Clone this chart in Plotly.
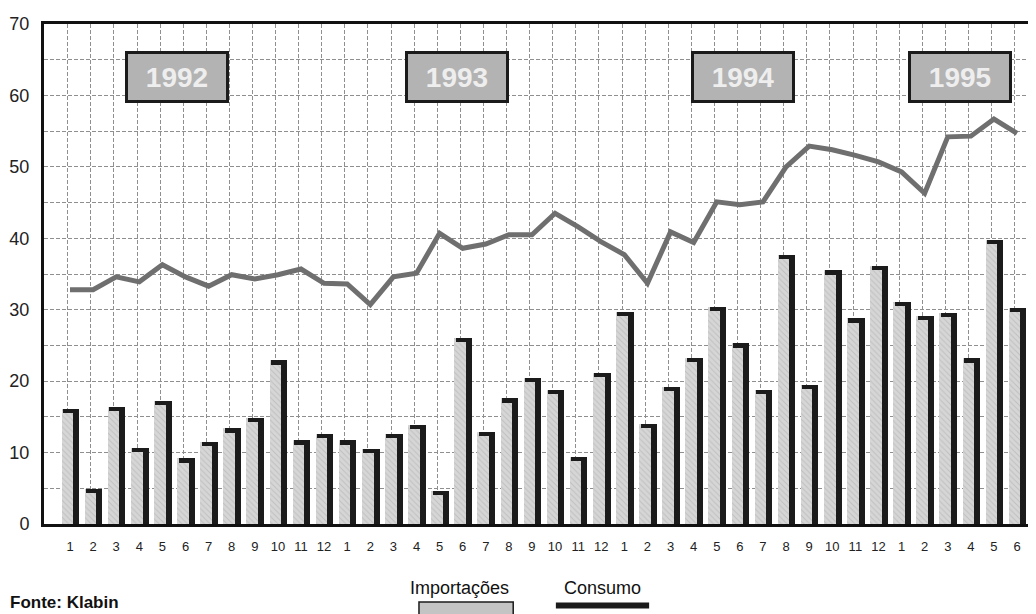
import plotly.graph_objects as go

# ---------------- data ----------------
meses = ["1", "2", "3", "4", "5", "6", "7", "8", "9", "10", "11", "12",
         "1", "2", "3", "4", "5", "6", "7", "8", "9", "10", "11", "12",
         "1", "2", "3", "4", "5", "6", "7", "8", "9", "10", "11", "12",
         "1", "2", "3", "4", "5", "6"]
anos = ["1992", "1993", "1994", "1995"]
importacoes = [16.1, 4.9, 16.4, 10.7, 17.2, 9.2, 11.5, 13.4, 14.9, 22.9, 11.7, 12.6,
               11.7, 10.5, 12.6, 13.9, 4.6, 26.1, 12.9, 17.6, 20.5, 18.8, 9.4, 21.2,
               29.7, 14.0, 19.2, 23.3, 30.4, 25.3, 18.8, 37.7, 19.5, 35.5, 28.8, 36.1,
               31.1, 29.1, 29.6, 23.2, 39.8, 30.3]
consumo = [32.8, 32.8, 34.6, 33.9, 36.3, 34.6, 33.3, 34.9, 34.3, 34.9, 35.7, 33.7,
           33.6, 30.7, 34.6, 35.1, 40.7, 38.6, 39.2, 40.5, 40.5, 43.5, 41.6, 39.5,
           37.7, 33.7, 40.9, 39.4, 45.1, 44.7, 45.1, 50.0, 52.9, 52.4, 51.6, 50.7,
           49.3, 46.3, 54.2, 54.3, 56.7, 54.7]
serie_nomes = ["Importações", "Consumo"]
fonte = "Fonte: Klabin"

# ---------------- styles ----------------
FONT = "Arial, Liberation Sans, sans-serif"
DARK = "#1b1b1b"
GRID = "#8f8f8f"
LINE_GRAY = "#6f6f6f"

x = list(range(len(meses)))
cap_h = 0.6

fig = go.Figure()

# light face of the bars
fig.add_trace(go.Bar(
    x=x, y=importacoes, name=serie_nomes[0], offset=-0.36, width=0.50,
    marker=dict(color="#d2d2d2", line=dict(width=0),
                pattern=dict(shape="\\", fgcolor="#a9a9a9", bgcolor="#d6d6d6",
                             size=4, solidity=0.25)),
    showlegend=False, hoverinfo="y"))
# dark side (shadow)
fig.add_trace(go.Bar(
    x=x, y=importacoes, offset=0.14, width=0.26,
    marker=dict(color=DARK, line=dict(width=0)), showlegend=False, hoverinfo="skip"))
# dark cap on top
fig.add_trace(go.Bar(
    x=x, y=[cap_h] * len(importacoes), base=[v - cap_h for v in importacoes],
    offset=-0.30, width=0.70,
    marker=dict(color=DARK, line=dict(width=0)), showlegend=False, hoverinfo="skip"))
# consumption line
fig.add_trace(go.Scatter(
    x=x, y=consumo, mode="lines", name=serie_nomes[1],
    line=dict(color=LINE_GRAY, width=5), showlegend=False))

fig.update_layout(
    width=1028, height=606,
    margin=dict(l=36, r=0, t=16, b=90),
    paper_bgcolor="white", plot_bgcolor="white",
    barmode="overlay", bargap=0,
    font=dict(family=FONT, color="#222"),
    xaxis=dict(
        range=[-1.126, 41.82], tickmode="array", tickvals=x, ticktext=meses,
        showgrid=False, zeroline=False, ticks="", ticklabelstandoff=8,
        tickfont=dict(size=13, color="#222"),
        showline=True, linecolor="#111", linewidth=3, mirror=True,
        minor=dict(tickmode="linear", tick0=-0.1, dtick=1, showgrid=True,
                   gridcolor=GRID, gridwidth=1, griddash="4px,2px", ticks=""),
    ),
    yaxis=dict(
        range=[0, 70], dtick=10, tick0=0, showgrid=True, gridcolor=GRID,
        gridwidth=1, griddash="4px,2px", zeroline=False, ticks="",
        ticklabelstandoff=8, tickfont=dict(size=18, color="#222"),
        showline=True, linecolor="#111", linewidth=3,
        minor=dict(dtick=5, showgrid=True, gridcolor=GRID, gridwidth=1,
                   griddash="4px,2px", ticks=""),
    ),
)

# year boxes
ano_pos = [0.134, 0.416, 0.705, 0.923]
for ano, px in zip(anos, ano_pos):
    fig.add_annotation(
        xref="paper", yref="paper", x=px, y=0.894, xanchor="center", yanchor="middle",
        text=f"<b>{ano}</b>",
        showarrow=False, width=98, height=46, borderwidth=3, borderpad=0,
        bordercolor=DARK, bgcolor="#b3b3b3",
        font=dict(family=FONT, size=28, color="#eeeeee"))

# custom legend
fig.add_annotation(xref="paper", yref="paper", x=0.419, y=-0.128, xanchor="center",
                   yanchor="middle", text=serie_nomes[0],
                   showarrow=False, font=dict(family=FONT, size=18, color="#111"))
fig.add_annotation(xref="paper", yref="paper", x=0.5635, y=-0.128, xanchor="center",
                   yanchor="middle", text=serie_nomes[1],
                   showarrow=False, font=dict(family=FONT, size=18, color="#111"))
fig.add_shape(type="rect", xref="paper", yref="paper", x0=0.378, x1=0.473,
              y0=-0.30, y1=-0.156, fillcolor="#c4c4c4",
              line=dict(color=DARK, width=1.5), layer="above")
fig.add_shape(type="line", xref="paper", yref="paper", x0=0.516, x1=0.610,
              y0=-0.163, y1=-0.163, line=dict(color=DARK, width=6), layer="above")

# source
fig.add_annotation(xref="paper", yref="paper", x=-0.036, y=-0.18, xanchor="left",
                   yanchor="bottom", text=f"<b>{fonte}</b>", showarrow=False,
                   font=dict(family=FONT, size=17, color="#111"))

fig.write_html("out.html")
